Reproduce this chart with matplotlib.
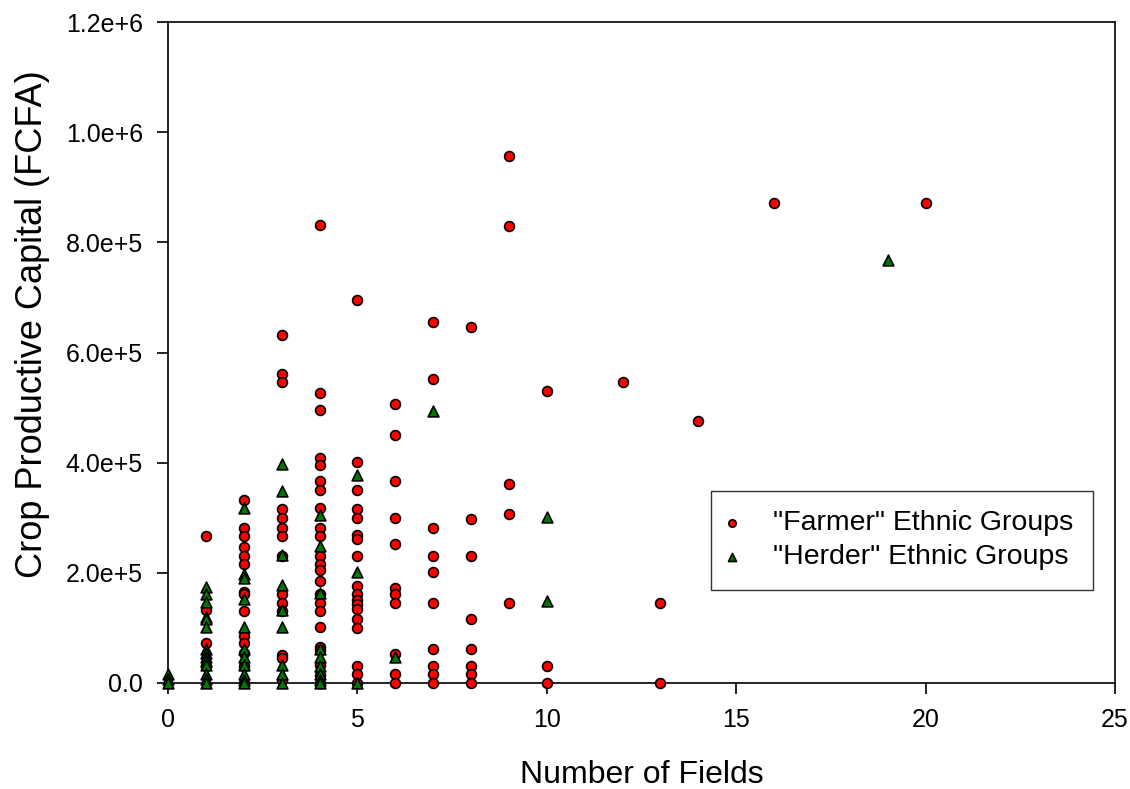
import matplotlib
matplotlib.use('Agg')
import matplotlib.pyplot as plt

plt.rcParams['font.family'] = ['Liberation Sans', 'DejaVu Sans']

# "Farmer" ethnic groups: number of fields -> crop productive capital values
farmer_fields = [1, 2, 3, 4, 5, 6, 7, 8, 9, 10, 12, 13, 14, 16, 20]
farmer_capital = [
    [2.66e5, 1.33e5, 0.72e5, 0.30e5],
    [3.32e5, 2.81e5, 2.66e5, 2.46e5, 2.31e5, 2.16e5, 1.66e5, 1.62e5, 1.31e5,
     0.85e5, 0.72e5, 0.54e5, 0.30e5, 0],
    [6.31e5, 5.61e5, 5.46e5, 3.16e5, 3.00e5, 2.81e5, 2.66e5, 2.31e5, 1.62e5,
     1.46e5, 1.31e5, 0.51e5, 0.46e5, 0.05e5],
    [8.31e5, 5.26e5, 4.96e5, 4.08e5, 3.96e5, 3.66e5, 3.50e5, 3.17e5, 2.81e5,
     2.66e5, 2.31e5, 2.16e5, 2.05e5, 1.86e5, 1.62e5, 1.46e5, 1.31e5, 1.01e5,
     0.66e5, 0.60e5, 0.32e5, 0.14e5, 0],
    [6.95e5, 4.01e5, 3.50e5, 3.16e5, 3.00e5, 2.69e5, 2.61e5, 2.31e5, 1.77e5,
     1.61e5, 1.50e5, 1.43e5, 1.35e5, 1.16e5, 1.00e5, 0.31e5, 0.16e5, 0],
    [5.06e5, 4.51e5, 3.66e5, 3.00e5, 2.52e5, 1.72e5, 1.61e5, 1.46e5, 0.53e5,
     0.16e5, 0],
    [6.56e5, 5.51e5, 2.81e5, 2.31e5, 2.01e5, 1.46e5, 0.61e5, 0.31e5, 0.16e5, 0],
    [6.46e5, 2.97e5, 2.31e5, 1.16e5, 0.61e5, 0.31e5, 0.16e5, 0],
    [9.56e5, 8.30e5, 3.61e5, 3.06e5, 1.46e5],
    [5.31e5, 0.31e5, 0],
    [5.46e5],
    [1.46e5, 0],
    [4.76e5],
    [8.71e5],
    [8.71e5],
]

# "Herder" ethnic groups
herder_fields = [0, 1, 2, 3, 4, 5, 6, 7, 10, 19]
herder_capital = [
    [0.17e5, 0.08e5, 0],
    [1.74e5, 1.62e5, 1.47e5, 1.20e5, 1.16e5, 1.01e5, 0.62e5, 0.54e5, 0.48e5,
     0.40e5, 0.32e5, 0.16e5, 0.08e5, 0],
    [3.17e5, 1.98e5, 1.90e5, 1.52e5, 1.02e5, 0.62e5, 0.48e5, 0.32e5, 0.16e5,
     0.05e5, 0],
    [3.98e5, 3.49e5, 2.32e5, 1.78e5, 1.33e5, 1.02e5, 0.32e5, 0.16e5, 0],
    [3.05e5, 2.48e5, 1.63e5, 0.62e5, 0.48e5, 0.30e5, 0.16e5, 0.05e5, 0],
    [3.77e5, 2.02e5, 0],
    [0.48e5],
    [4.93e5],
    [3.02e5, 1.48e5],
    [7.68e5],
]

y_ticks = [0, 2e5, 4e5, 6e5, 8e5, 1e6, 1.2e6]
y_ticklabels = ['0.0', '2.0e+5', '4.0e+5', '6.0e+5', '8.0e+5', '1.0e+6', '1.2e+6']
x_ticks = [0, 5, 10, 15, 20, 25]

fx = [f for f, vals in zip(farmer_fields, farmer_capital) for v in vals]
fy = [v for vals in farmer_capital for v in vals]
hx = [f for f, vals in zip(herder_fields, herder_capital) for v in vals]
hy = [v for vals in herder_capital for v in vals]

fig = plt.figure(figsize=(11.3, 7.89), dpi=100)
ax = fig.add_axes([168/1130, 1 - 683/789, (1115 - 168)/1130, (683 - 22)/789])

ax.scatter(fx, fy, s=50, marker='o', color='#ff0000', edgecolors='black',
           linewidths=1.2, clip_on=False, zorder=3, label='"Farmer" Ethnic Groups')
ax.scatter(hx, hy, s=60, marker='^', color='#007800', edgecolors='black',
           linewidths=1.2, clip_on=False, zorder=4, label='"Herder" Ethnic Groups')

ax.set_xlim(0, 25)
ax.set_ylim(0, 1.2e6)
ax.set_xticks(x_ticks)
ax.set_yticks(y_ticks)
ax.set_yticklabels(y_ticklabels)
ax.tick_params(direction='out', length=8, width=1.2, labelsize=18, pad=10,
               top=False, right=False)
for sp in ax.spines.values():
    sp.set_linewidth(1.2)

ax.set_xlabel('Number of Fields', fontsize=23, labelpad=20)
ax.set_ylabel('Crop Productive Capital (FCFA)', fontsize=26)
ax.yaxis.set_label_coords(-118/947, (683 - 324)/661)

leg = ax.legend(loc='upper left', bbox_to_anchor=((711 - 168)/947, (683 - 491)/661),
                fontsize=20.5, frameon=True, fancybox=False, edgecolor='black',
                markerscale=0.75, borderpad=0.68, handlelength=0.1,
                handletextpad=1.4, borderaxespad=0, labelspacing=0.28)
leg.get_frame().set_linewidth(1.0)

fig.savefig('out.png', dpi=100)
